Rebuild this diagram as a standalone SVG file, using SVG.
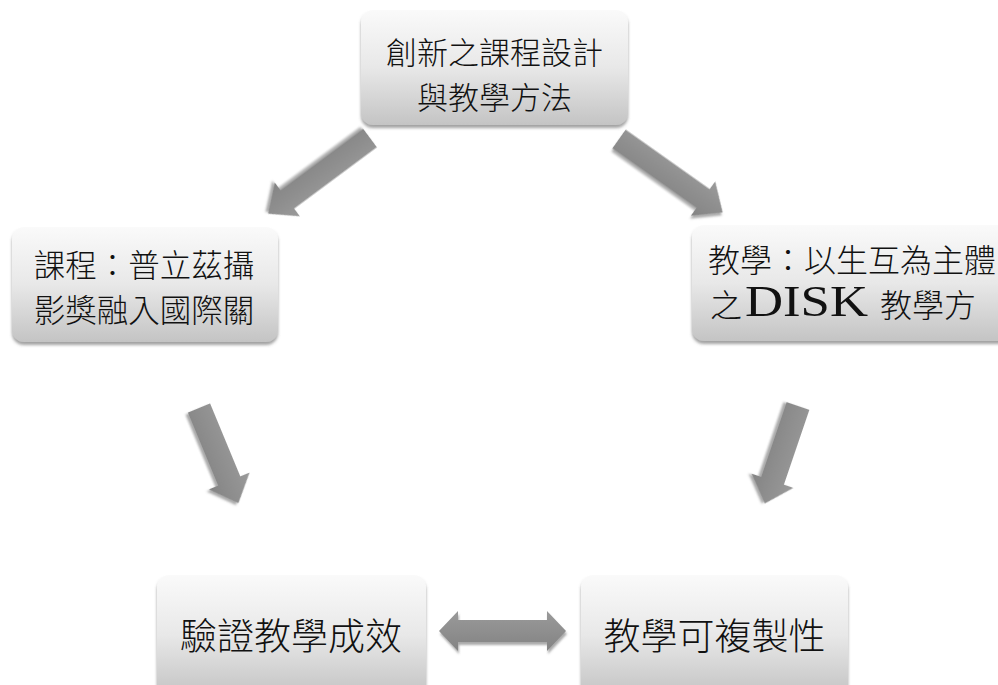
<svg xmlns="http://www.w3.org/2000/svg" width="998" height="685" viewBox="0 0 998 685">
<defs>
<linearGradient id="boxg" x1="0" y1="0" x2="0" y2="1">
<stop offset="0" stop-color="#fafafa"/>
<stop offset="0.5" stop-color="#e8e8e8"/>
<stop offset="1" stop-color="#c4c4c4"/>
</linearGradient>
<linearGradient id="arrg" x1="0" y1="0" x2="0" y2="1">
<stop offset="0" stop-color="#9a9a9a"/>
<stop offset="1" stop-color="#838383"/>
</linearGradient>
<filter id="sh" x="-20%" y="-20%" width="140%" height="150%">
<feDropShadow dx="0" dy="3" stdDeviation="1.5" flood-color="#666" flood-opacity="0.6"/>
</filter>
<filter id="ash" x="-30%" y="-30%" width="160%" height="160%">
<feDropShadow dx="1" dy="3" stdDeviation="1.2" flood-color="#555" flood-opacity="0.5"/>
</filter>
</defs>
<style>
.box{fill:url(#boxg);filter:url(#sh);}
.t{font-family:"Liberation Serif","Noto Sans CJK TC",serif;font-weight:300;fill:#111;}
.arr{fill:url(#arrg);filter:url(#ash);}
</style>
<rect width="998" height="685" fill="#fff"/>
<g id="connectors">
<polygon class="arr" transform="translate(370,138) rotate(143.4)" points="0,-11.5 103,-11.5 103,-21 127,0 103,21 103,11.5 0,11.5"/>
<polygon class="arr" transform="translate(619,139) rotate(35.3)" points="0,-11.5 103,-11.5 103,-21 127,0 103,21 103,11.5 0,11.5"/>
<polygon class="arr" transform="translate(199,408) rotate(67.5)" points="0,-12 79,-12 79,-22 103,0 79,22 79,12 0,12"/>
<polygon class="arr" transform="translate(798,406) rotate(108.8)" points="0,-12 79,-12 79,-22 103,0 79,22 79,12 0,12"/>
<polygon class="arr" points="439,631 458,611 458,620 547,620 547,611 566,631 547,651 547,642 458,642 458,651"/>
</g>
<g id="node-top">
<rect class="box" x="361" y="10" width="267" height="115" rx="12"/>
<text class="t" x="494.5" y="64" font-size="31" text-anchor="middle">創新之課程設計</text>
<text class="t" x="494.5" y="109" font-size="31" text-anchor="middle">與教學方法</text>
</g>
<g id="node-left">
<rect class="box" x="12" y="227" width="266" height="115" rx="12"/>
<text class="t" x="144" y="277" font-size="31.5" text-anchor="middle">課程：普立茲攝</text>
<text class="t" x="144" y="322" font-size="31.5" text-anchor="middle">影獎融入國際關</text>
</g>
<g id="node-right">
<rect class="box" x="692" y="225" width="330" height="116" rx="12"/>
<text class="t" x="708" y="272" font-size="32">教學：以生互為主體</text>
<text class="t" x="710" y="317" font-size="32">之</text>
<text class="t" x="745" y="316" font-size="44" textLength="123" lengthAdjust="spacingAndGlyphs">DISK</text>
<text class="t" x="880" y="317" font-size="32">教學方</text>
</g>
<g id="node-bottom-left">
<rect class="box" x="157" y="575" width="269" height="120" rx="12"/>
<text class="t" x="291" y="650" font-size="37" text-anchor="middle">驗證教學成效</text>
</g>
<g id="node-bottom-right">
<rect class="box" x="581" y="575" width="267" height="120" rx="12"/>
<text class="t" x="714.5" y="650" font-size="37" text-anchor="middle">教學可複製性</text>
</g>
</svg>
